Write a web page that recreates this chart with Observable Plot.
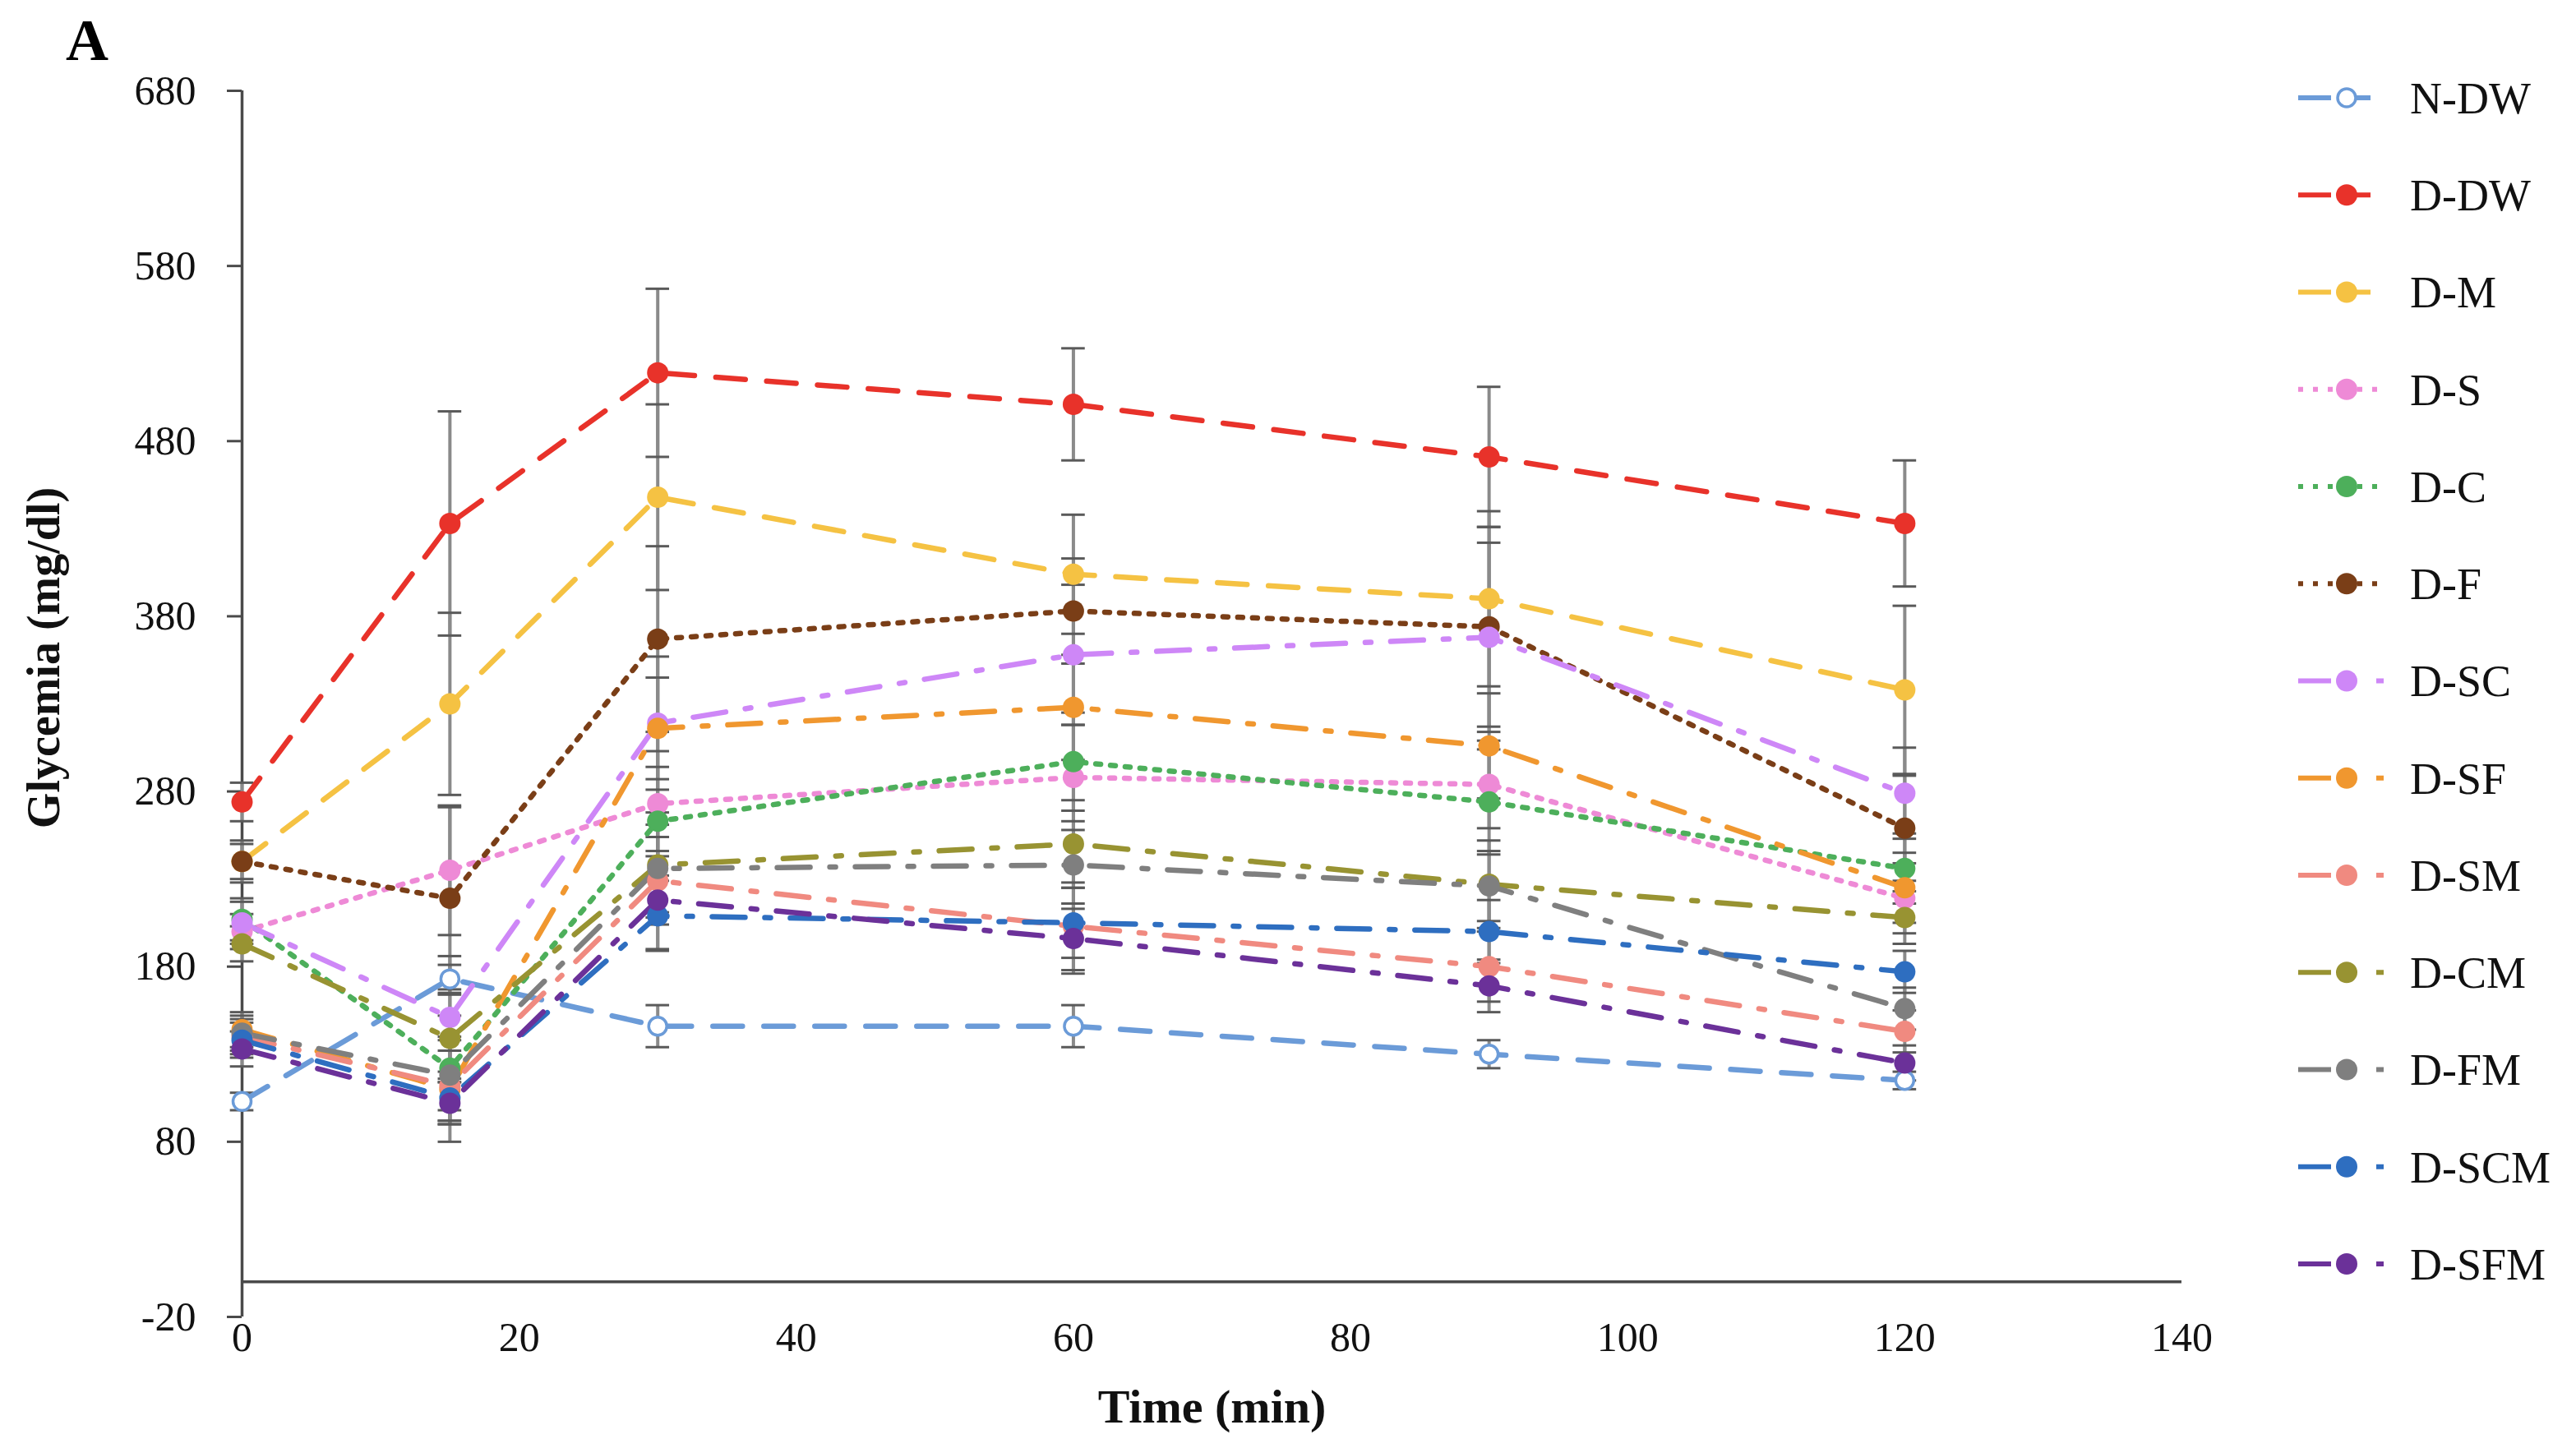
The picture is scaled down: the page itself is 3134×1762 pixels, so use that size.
<!DOCTYPE html>
<html><head><meta charset="utf-8">
<script src="https://cdn.jsdelivr.net/npm/d3@7"></script>
<script src="https://cdn.jsdelivr.net/npm/@observablehq/plot@0.6"></script>
<style>
html,body{margin:0;padding:0;background:#fff;}
#wrap{position:relative;width:3134px;height:1762px;overflow:hidden;font-family:"Liberation Serif",serif;}
#panel{position:absolute;left:80px;top:10px;font-size:72px;font-weight:bold;line-height:1.1;}
#legend{position:absolute;left:2760px;top:60px;}
</style></head><body>
<div id="wrap"><div id="panel">A</div></div>
<script>
// time points (min)
const times = [0, 15, 30, 60, 90, 120];
const xTicks = [0, 20, 40, 60, 80, 100, 120, 140];
const yTicks = [-20, 80, 180, 280, 380, 480, 580, 680];

// mean glycemia (mg/dl)
const NDW  = [103, 173, 146, 146, 130, 115];
const DDW  = [274, 433, 519, 501, 471, 433];
const DM   = [240, 330, 448, 404, 390, 338];
const DS   = [200, 235, 273, 288, 284, 219];
const DC   = [207, 122, 263, 297, 274, 236];
const DF   = [240, 219, 367, 383, 374, 259];
const DSC  = [205, 151, 319, 358, 368, 279];
const DSF  = [144, 110, 316, 328, 306, 225];
const DSM  = [140, 112, 229, 203, 180, 143];
const DCM  = [193, 139, 238, 250, 227, 208];
const DFM  = [142, 118, 236, 238, 226, 156];
const DSCM = [138, 105, 209, 205, 200, 177];
const DSFM = [133, 102, 218, 196, 169, 125];

// error bars (+/-)
const eNDW  = [5, 8, 12, 12, 8, 5];
const eDDW  = [11, 64, 48, 32, 40, 36];
const eDM   = [10, 52, 53, 34, 50, 48];
const eDS   = [10, 37, 30, 30, 25, 20];
const eDC   = [12, 30, 31, 28, 30, 20];
const eDF   = [12, 52, 53, 30, 57, 30];
const eDSC  = [12, 35, 38, 40, 54, 26];
const eDSF  = [10, 30, 29, 30, 30, 20];
const eDSM  = [10, 20, 25, 25, 20, 12];
const eDCM  = [10, 25, 30, 25, 25, 15];
const eDFM  = [10, 20, 25, 25, 20, 12];
const eDSCM = [10, 15, 20, 20, 18, 12];
const eDSFM = [10, 12, 28, 20, 15, 10];

const names  = ["N-DW","D-DW","D-M","D-S","D-C","D-F","D-SC","D-SF","D-SM","D-CM","D-FM","D-SCM","D-SFM"];
const values = [NDW, DDW, DM, DS, DC, DF, DSC, DSF, DSM, DCM, DFM, DSCM, DSFM];
const errors = [eNDW, eDDW, eDM, eDS, eDC, eDF, eDSC, eDSF, eDSM, eDCM, eDFM, eDSCM, eDSFM];
const colors = ["#6B9BD8","#E8322A","#F5C243","#EE8AD6","#4DAF5B","#7A3E17","#CE87F7","#F0972F","#F08A80","#989332","#7F7F7F","#2E6EC0","#6B3199"];
const DASH = "36,26", DOT = "6,12", DASHDOT = "40,24,7,24";
const dashes = [DASH, DASH, DASH, DOT, DOT, DOT, DASHDOT, DASHDOT, DASHDOT, DASHDOT, DASHDOT, DASHDOT, DASHDOT];

const series = names.map((name, k) => ({name, color: colors[k], dash: dashes[k], hollow: k === 0,
  pts: times.map((t, i) => ({name, t, v: values[k][i], e: errors[k][i]}))}));
const allPts = series.flatMap(s => s.pts);
const capHalf = 0.85;
const R = 13;

const marks = [
  Plot.ruleX([0], {y1: -20, y2: 680, stroke: "#4a4a4a", strokeWidth: 3.5}),
  Plot.ruleY([0], {x1: 0, x2: 140, stroke: "#4a4a4a", strokeWidth: 3.5}),
  Plot.axisY({ticks: yTicks, tickSize: 18, tickPadding: 38, fontSize: 50, stroke: "#4a4a4a", strokeWidth: 3, fill: "#111", label: null, tickFormat: d => String(d)}),
  Plot.axisX({ticks: xTicks, tickSize: 0, tickPadding: 6, fontSize: 50, fill: "#111", label: null, tickFormat: d => String(d)}),
  Plot.ruleX(allPts, {x: "t", y1: d => d.v - d.e, y2: d => d.v + d.e, stroke: "#8a8a8a", strokeWidth: 4}),
  Plot.ruleY(allPts, {y: d => d.v + d.e, x1: d => d.t - capHalf, x2: d => d.t + capHalf, stroke: "#5a5a5a", strokeWidth: 3}),
  Plot.ruleY(allPts, {y: d => d.v - d.e, x1: d => d.t - capHalf, x2: d => d.t + capHalf, stroke: "#5a5a5a", strokeWidth: 3}),
];
for (const s of series) {
  marks.push(Plot.line(s.pts, {x: "t", y: "v", stroke: s.color, strokeWidth: 6.5, strokeDasharray: s.dash}));
}
for (const s of series) {
  marks.push(Plot.dot(s.pts, {x: "t", y: "v", r: s.hollow ? R - 2 : R, fill: s.hollow ? "white" : s.color, stroke: s.color, strokeWidth: s.hollow ? 3.5 : 0}));
}
marks.push(Plot.text(["Glycemia (mg/dl)"], {text: d => d, frameAnchor: "left", textAnchor: "middle", lineAnchor: "middle", rotate: -90, dx: -240, dy: -56, fontSize: 56, fontWeight: "bold", fill: "#111"}));
marks.push(Plot.text(["Time (min)"], {text: d => d, frameAnchor: "bottom", textAnchor: "middle", lineAnchor: "middle", dy: 110, fontSize: 58, fontWeight: "bold", fill: "#111"}));

const chart = Plot.plot({
  width: 3134, height: 1762,
  marginLeft: 294, marginRight: 480, marginTop: 110, marginBottom: 160,
  x: {domain: [0, 140]},
  y: {domain: [-20, 680]},
  style: {fontFamily: "Liberation Serif, serif", background: "white", overflow: "visible"},
  marks
});
const wrap = document.getElementById("wrap");
wrap.insertBefore(chart, wrap.firstChild);

// legend
const lg = d3.select(wrap).append("svg").attr("id", "legend").attr("width", 374).attr("height", 1560);
series.forEach((s, i) => {
  const y = 59 + i * 118.25;
  const g = lg.append("g").attr("transform", `translate(0,${y})`);
  g.append("line").attr("x1", 36).attr("x2", 140).attr("y1", 0).attr("y2", 0)
    .attr("stroke", s.color).attr("stroke-width", 6).attr("stroke-dasharray", s.dash === DASH ? "40,8,40" : s.dash);
  g.append("circle").attr("cx", 95).attr("cy", 0).attr("r", s.hollow ? R - 2 : R)
    .attr("fill", s.hollow ? "white" : s.color).attr("stroke", s.color).attr("stroke-width", s.hollow ? 3.5 : 0);
  g.append("text").attr("x", 172).attr("y", 0).attr("dy", "0.35em")
    .attr("font-family", "Liberation Serif, serif").attr("font-size", 54).attr("fill", "#111").text(s.name);
});
</script>
</body></html>
